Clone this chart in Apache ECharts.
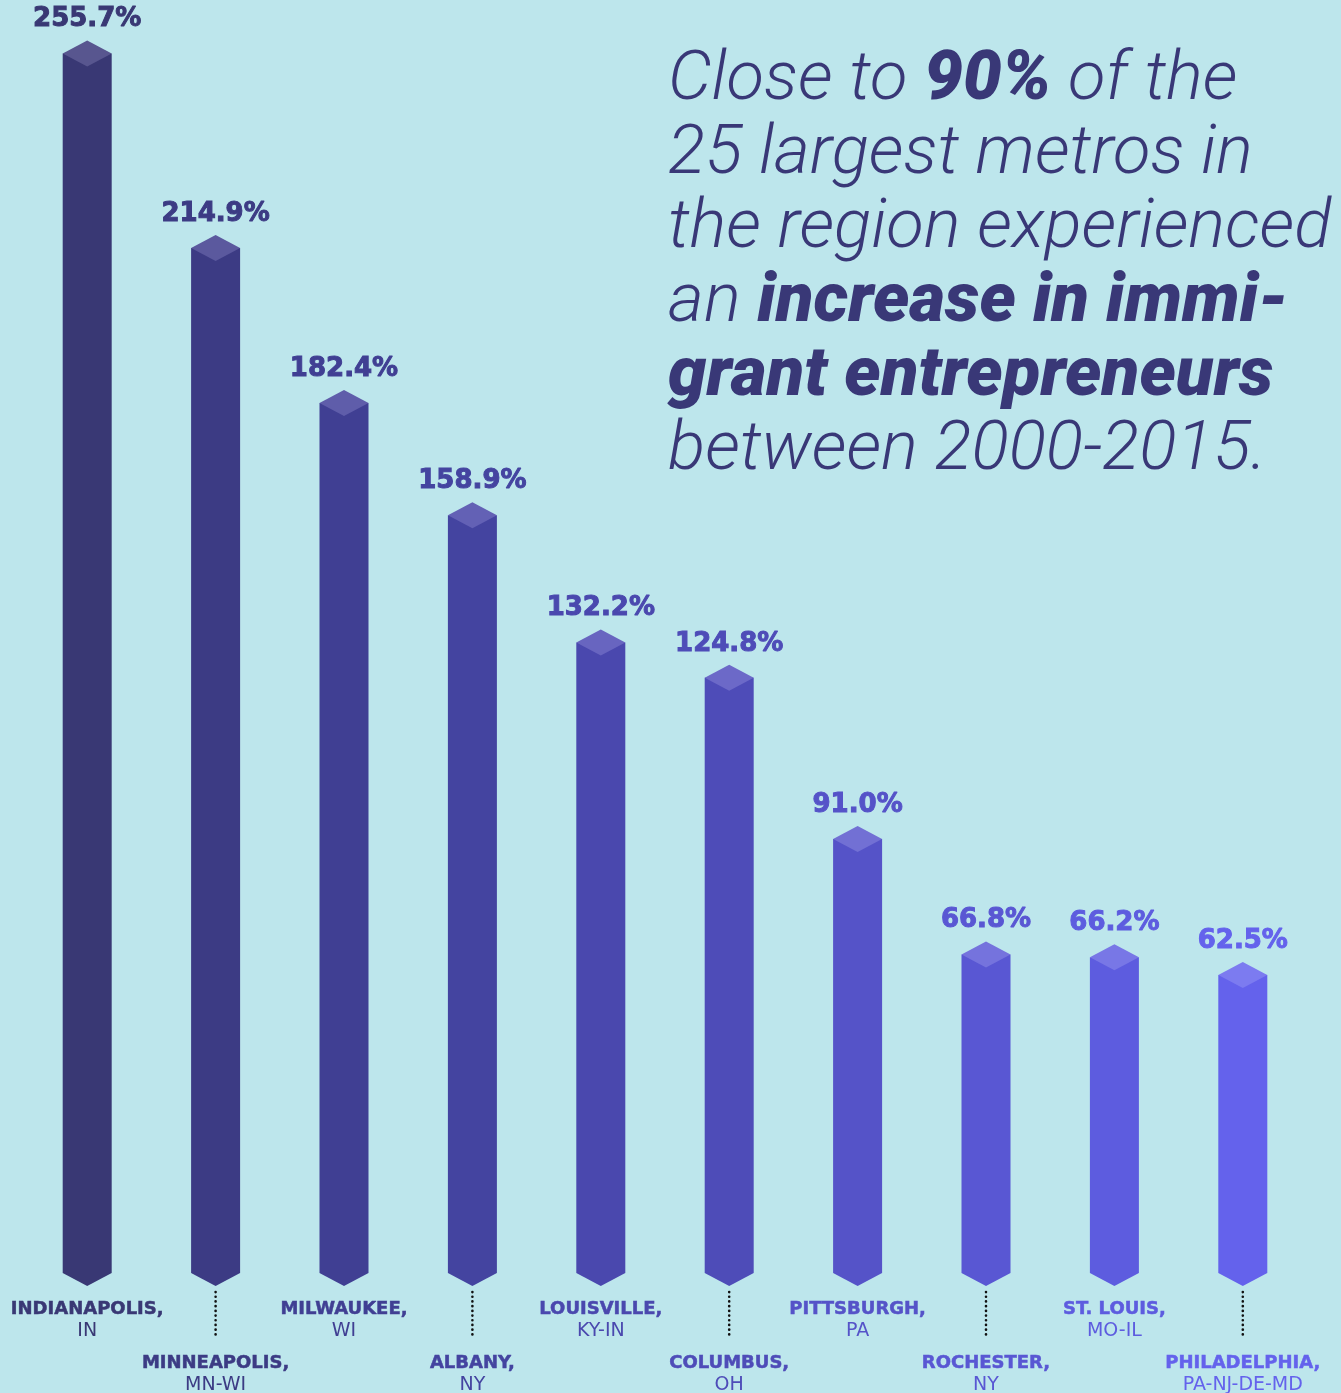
<!DOCTYPE html>
<html>
<head>
<meta charset="utf-8">
<script src="https://cdn.jsdelivr.net/npm/echarts@6/dist/echarts.min.js"></script>
<style>
  html, body { margin: 0; padding: 0; background: #bde6ec; }
  #chart { width: 1341px; height: 1393px; }
</style>
</head>
<body>
<div id="chart"></div>
<script>
const cities = ['INDIANAPOLIS', 'MINNEAPOLIS', 'MILWAUKEE', 'ALBANY', 'LOUISVILLE',
  'COLUMBUS', 'PITTSBURGH', 'ROCHESTER', 'ST. LOUIS', 'PHILADELPHIA']
const states = ['IN', 'MN-WI', 'WI', 'NY', 'KY-IN', 'OH', 'PA', 'NY', 'MO-IL', 'PA-NJ-DE-MD']
const growth = [255.7, 214.9, 182.4, 158.9, 132.2, 124.8, 91.0, 66.8, 66.2, 62.5]

// bar colours, dark navy to bright violet
const bodyColors = ['#393874', '#3c3b84', '#403f93', '#4444a0', '#4a48ae',
  '#4e4cb8', '#5553c8', '#5957d3', '#5d5cdf', '#6462ec']
const capColors = ['#58568f', '#5b599e', '#5f5daa', '#6361b5', '#6865c0',
  '#6c69c8', '#7270d4', '#7573dd', '#7877e6', '#7c7bf0']
const headColor = '#393877'

const chart = echarts.init(document.getElementById('chart'))

const renderBar = (params, api) => {
  const i = api.value(0)
  const top = api.coord([i, api.value(1)])
  const base = api.coord([i, 0])
  const x = top[0]
  const ys = top[1]
  const y0 = base[1]
  const w = 24.5
  const h = 13
  const children = [
    {
      type: 'polygon',
      shape: { points: [[x - w, ys], [x + w, ys], [x + w, y0], [x, y0 + h], [x - w, y0]] },
      style: { fill: bodyColors[i] }
    },
    {
      type: 'polygon',
      shape: { points: [[x, ys - h], [x + w, ys], [x, ys + h], [x - w, ys]] },
      style: { fill: capColors[i] }
    },
    {
      type: 'text',
      style: {
        x: x, y: ys - 34, text: growth[i].toFixed(1) + '%',
        align: 'center', verticalAlign: 'middle',
        font: 'bold 26px "DejaVu Sans"', fill: bodyColors[i],
        stroke: bodyColors[i], lineWidth: 1
      }
    }
  ]
  const low = i % 2 === 1
  const off = low ? 54 : 0
  if (low) {
    children.push({
      type: 'line',
      shape: { x1: x, y1: y0 + 19, x2: x, y2: y0 + 64 },
      style: { stroke: '#111', lineWidth: 2.6, lineDash: [0.1, 4.6], lineCap: 'round' }
    })
  }
  children.push({
    type: 'text',
    style: {
      x: x, y: y0 + 36 + off, text: cities[i] + ',',
      align: 'center', verticalAlign: 'middle',
      font: 'bold 18px "DejaVu Sans"', fill: bodyColors[i],
      stroke: bodyColors[i], lineWidth: 0.5
    }
  })
  children.push({
    type: 'text',
    style: {
      x: x, y: y0 + 58 + off, text: states[i],
      align: 'center', verticalAlign: 'middle',
      font: '19px "DejaVu Sans"', fill: bodyColors[i]
    }
  })
  return { type: 'group', children }
}

const option = {
  backgroundColor: '#bde6ec',
  animation: false,
  grid: { left: 23, width: 1284, top: 33, bottom: 120 },
  xAxis: {
    type: 'category',
    data: cities,
    show: false
  },
  yAxis: {
    type: 'value',
    min: 0,
    max: 260,
    show: false
  },
  graphic: [
    {
      type: 'text',
      left: 668,
      top: 47,
      style: {
        text: '{n|Close to }{b|90%}{n| of the}\n' +
          '{n|25 largest metros in}\n' +
          '{n|the region experienced}\n' +
          '{n|an }{b|increase in immi-}\n' +
          '{b|grant entrepreneurs}\n' +
          '{n|between 2000-2015.}',
        rich: {
          n: { fontFamily: 'Roboto', fontStyle: 'italic', fontWeight: 300, fontSize: 69, lineHeight: 74, fill: headColor, color: headColor },
          b: { fontFamily: 'Roboto', fontStyle: 'italic', fontWeight: 900, fontSize: 69, lineHeight: 74, fill: headColor, color: headColor }
        }
      }
    }
  ],
  series: [
    {
      type: 'custom',
      renderItem: renderBar,
      encode: { x: 0, y: 1 },
      data: growth.map((v, i) => [i, v])
    }
  ]
}

chart.setOption(option)
</script>
</body>
</html>
